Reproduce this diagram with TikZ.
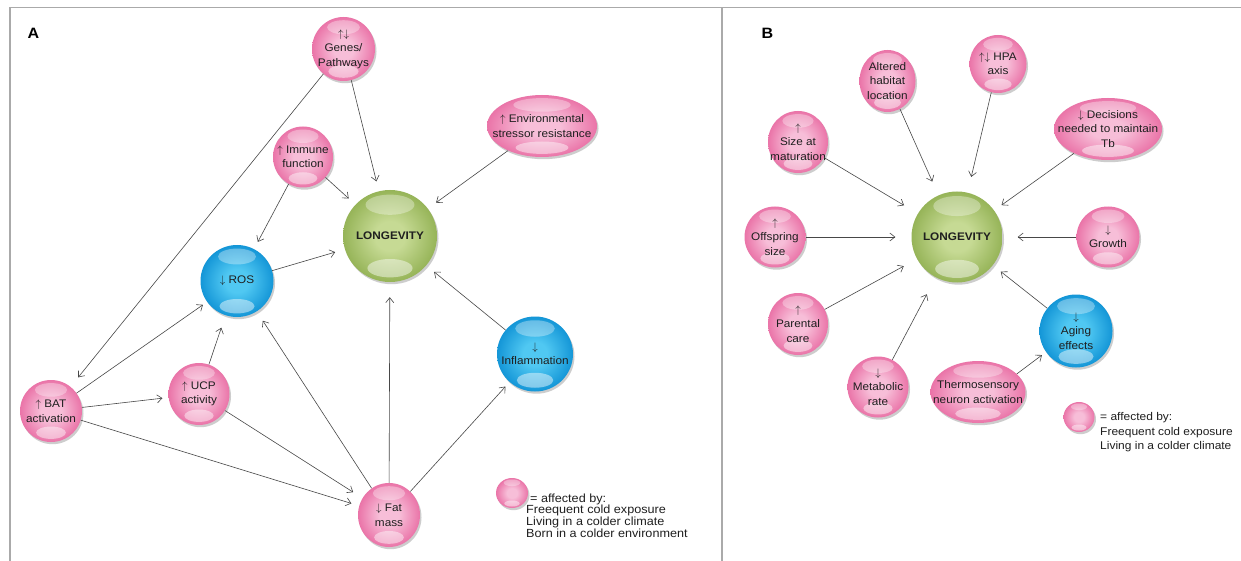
\documentclass[tikz,border=0pt]{standalone}
\usepackage{fontspec}
\setmainfont{Liberation Sans}[FakeStretch=1.07]
\usetikzlibrary{shapes.geometric,arrows.meta,shadows,calc}
\definecolor{pinkO}{RGB}{234,116,168}
\definecolor{pinkI}{RGB}{247,190,216}
\definecolor{blueO}{RGB}{20,150,215}
\definecolor{blueI}{RGB}{80,200,242}
\definecolor{greenO}{RGB}{150,180,88}
\definecolor{greenI}{RGB}{198,218,148}
\definecolor{framec}{RGB}{170,170,170}
\pgfdeclareradialshading{pinkball}{\pgfpoint{0bp}{0bp}}{color(0bp)=(pinkI); color(8bp)=(pinkI); color(25bp)=(pinkO); color(50bp)=(pinkO)}
\pgfdeclareradialshading{blueball}{\pgfpoint{0bp}{0bp}}{color(0bp)=(blueI); color(8bp)=(blueI); color(25bp)=(blueO); color(50bp)=(blueO)}
\pgfdeclareradialshading{greenball}{\pgfpoint{0bp}{0bp}}{color(0bp)=(greenI); color(8bp)=(greenI); color(25bp)=(greenO); color(50bp)=(greenO)}
\newcommand\nf{\fontsize{11}{14.5}\selectfont}
\newcommand\ua{\ensuremath{\uparrow}}
\newcommand\da{\ensuremath{\downarrow}}
\newcommand\bubnode[6]{%
  \node[#2, minimum width=#4pt, minimum height=#5pt] (#1) at (#3) {};
  \node[txt] (#1-t) at (#1) {#6};}
\begin{document}
\begin{tikzpicture}[x=1pt,y=-1pt,
  bub/.style={ellipse, inner sep=0pt, draw=none,
    drop shadow={opacity=.28, shadow xshift=1.5pt, shadow yshift=-2.2pt, fill=black!70},
    path picture={
      \fill[white, fill opacity=.33] let \p1=($(path picture bounding box.north east)-(path picture bounding box.south west)$) in
        ($(path picture bounding box.center)+(0pt,{0.34*\y1})$) ellipse [x radius={0.26*\x1}, y radius={0.11*\y1}];
      \fill[white, fill opacity=.45] let \p1=($(path picture bounding box.north east)-(path picture bounding box.south west)$) in
        ($(path picture bounding box.center)+(0pt,{-0.35*\y1})$) ellipse [x radius={0.24*\x1}, y radius={0.10*\y1}];
    }},
  pinkb/.style={bub, shading=pinkball},
  blueb/.style={bub, shading=blueball},
  greenb/.style={bub, shading=greenball},
  txt/.style={align=center, font=\nf, inner sep=0pt, text=black!88},
  arr/.style={draw=black!72, line width=0.6pt, -{Straight Barb[length=5pt,width=8pt]}, shorten >=#1},
  arr/.default=9pt,
  frame/.style={draw=framec, line width=1.5pt},
  panel/.style={font=\fontsize{15}{18}\selectfont\bfseries, inner sep=0pt}]
\useasboundingbox (0,0) rectangle (1241,561);
\clip (0,0) rectangle (1241,561);
\fill[white] (0,0) rectangle (1241,561);
% frame
\draw[frame] (10,561) -- (10,7.5) -- (1241,7.5);
\draw[frame] (722,7.5) -- (722,561);
\node[panel] (labA) at (33.5,33.5) {A};
\node[panel] (labB) at (767.5,33.5) {B};
% ---------- Panel A ----------
\bubnode{gen}{pinkb}{343.5,49}{63}{64}{\ua\da\\Genes/\\Pathways}
\bubnode{env}{pinkb}{542,126}{110}{62}{\ua{} Environmental\\stressor resistance}
\bubnode{imm}{pinkb}{303,157}{60}{61}{\ua{} Immune\\function}
\bubnode{lonA}{greenb}{390,236}{94}{92}{\textbf{LONGEVITY}}
\bubnode{ros}{blueb}{237,281}{73}{72}{\da{} ROS}
\bubnode{inf}{blueb}{535,354}{76}{75}{\da\\Inflammation}
\bubnode{bat}{pinkb}{51,411}{62}{62}{\ua{} BAT\\activation}
\bubnode{ucp}{pinkb}{199,394}{61}{62}{\ua{} UCP\\activity}
\bubnode{fat}{pinkb}{389,515}{62}{64}{\da{} Fat\\mass}
\node[pinkb, minimum width=32pt, minimum height=30pt] (legA) at (512,493) {};
\node[align=left, inner sep=0pt, anchor=north west, text=black!88,
  font=\fontsize{11.8}{11.7}\selectfont] (legAt) at (526,493.5)
  {\hspace*{4pt}= affected by:\\Freequent cold exposure\\Living in a colder climate\\Born in a colder environment};
\draw[arr=10pt] (gen) -- (lonA);
\draw[arr=12pt] (gen) -- (bat);
\draw[arr=9pt] (imm) -- (lonA);
\draw[arr=8pt] (imm) -- (ros);
\draw[arr=10pt] (env) -- (lonA);
\draw[arr=10pt] (ros) -- (lonA);
\draw[arr=10pt] (inf) -- (lonA);
\draw[arr=15pt] (fat) -- (lonA);
\draw[arr=6pt] (fat) -- (inf);
\draw[arr=11pt] (fat) -- (ros);
\draw[arr=5pt] (bat) -- (ros);
\draw[arr=6pt] (bat) -- (ucp);
\draw[arr=8pt] (bat) -- (fat);
\draw[arr=11pt] (ucp) -- (fat);
\draw[arr=13pt] (ucp) -- (ros);
% ---------- Panel B ----------
\bubnode{alt}{pinkb}{887.5,81}{56}{62}{Altered\\habitat\\location}
\bubnode{hpa}{pinkb}{998,64}{57}{58}{\ua\da{} HPA\\axis}
\bubnode{siz}{pinkb}{798,142}{60}{62}{\ua\\Size at\\maturation}
\bubnode{dec}{pinkb}{1108,129}{108}{62}{\da{} Decisions\\needed to maintain\\Tb}
\bubnode{off}{pinkb}{775,237}{61}{61}{\ua\\Offspring\\size}
\bubnode{lonB}{greenb}{957,237}{91}{91}{\textbf{LONGEVITY}}
\bubnode{gro}{pinkb}{1108,237}{63}{61}{\da\\Growth}
\bubnode{par}{pinkb}{798,324}{60}{62}{\ua\\Parental\\care}
\bubnode{age}{blueb}{1076,331}{73}{73}{\da\\Aging\\effects}
\bubnode{met}{pinkb}{878,387}{61}{61}{\da\\Metabolic\\rate}
\bubnode{thr}{pinkb}{978,392}{95}{62}{Thermosensory\\neuron activation}
\node[pinkb, minimum width=31pt, minimum height=30pt] (legB) at (1079,417) {};
\node[align=left, inner sep=0pt, anchor=north west, text=black!88,
  font=\fontsize{11.2}{14.5}\selectfont] (legBt) at (1100,412.5)
  {= affected by:\\Freequent cold exposure\\Living in a colder climate};
\draw[arr=15pt] (alt) -- (lonB);
\draw[arr=16pt] (hpa) -- (lonB);
\draw[arr=16pt] (siz) -- (lonB);
\draw[arr=9pt] (dec) -- (lonB);
\draw[arr=16pt] (off) -- (lonB);
\draw[arr=15pt] (gro) -- (lonB);
\draw[arr=15pt] (par) -- (lonB);
\draw[arr=19pt] (met) -- (lonB);
\draw[arr=10pt] (age) -- (lonB);
\draw[arr=5pt] (thr.25) -- (age.215);
\end{tikzpicture}
\end{document}
